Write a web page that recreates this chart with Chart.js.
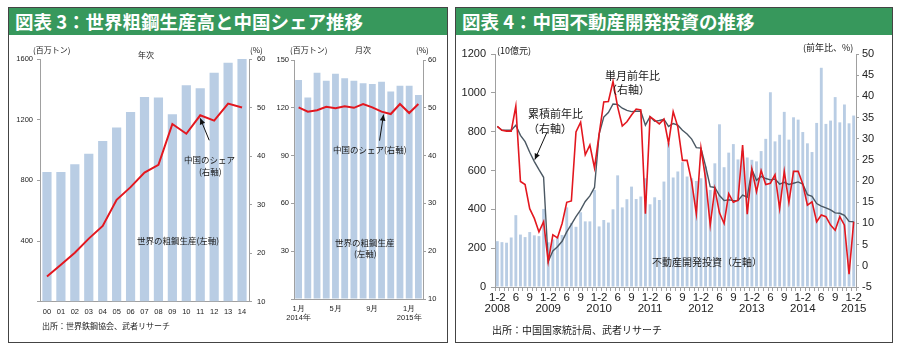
<!DOCTYPE html>
<html>
<head>
<meta charset="utf-8">
<script src="https://cdn.jsdelivr.net/npm/chart.js@4.4.1/dist/chart.umd.min.js"></script>
<style>
  body { margin: 0; width: 900px; height: 353px; background: #fff; position: relative; overflow: hidden;
         font-family: "Noto Sans CJK JP", sans-serif; }
  .panel { position: absolute; top: 7px; height: 336px; border: 1.5px solid #444; box-sizing: border-box; }
  .hdr { position: absolute; left: 0; right: 0; top: 0; height: 27px; background: #37985c; color: #fff;
         font-weight: bold; font-size: 18.5px; line-height: 27px; padding-left: 6px; white-space: nowrap; }
  .t { position: absolute; white-space: nowrap; color: #1a1a1a; line-height: 1; }
  canvas { position: absolute; }
</style>
</head>
<body>
<div class="panel" style="left:8px;width:440px"><div class="hdr">図表 3：世界粗鋼生産高と中国シェア推移</div></div>
<div class="panel" style="left:455px;width:438px"><div class="hdr">図表 4：中国不動産開発投資の推移</div></div>

<canvas id="yearChart" width="275" height="285" style="left:10px;top:40px"></canvas>
<canvas id="monthChart" width="180" height="285" style="left:268px;top:40px"></canvas>
<canvas id="investChart" width="437" height="290" style="left:455px;top:40px"></canvas>

<!-- 図表3 左 -->
<div class="t" style="left:33px;top:46px;font-size:8px">(百万トン)</div>
<div class="t" style="left:138px;top:51px;font-size:8px">年次</div>
<div class="t" style="left:250px;top:46px;font-size:8px">(%)</div>
<div class="t" style="left:184px;top:155px;font-size:8.5px">中国のシェア</div>
<div class="t" style="left:199px;top:167px;font-size:8.5px">(右軸)</div>
<div class="t" style="left:137px;top:236px;font-size:8.5px">世界の粗鋼生産(左軸)</div>
<div class="t" style="left:42px;top:322px;font-size:8px">出所：世界鉄鋼協会、武者リサーチ</div>
<!-- 図表3 右 -->
<div class="t" style="left:290px;top:46px;font-size:8px">(百万トン)</div>
<div class="t" style="left:355px;top:46px;font-size:8px">月次</div>
<div class="t" style="left:416px;top:46px;font-size:8px">(%)</div>
<div class="t" style="left:333px;top:145px;font-size:8.5px">中国のシェア(右軸)</div>
<div class="t" style="left:335px;top:238px;font-size:8.5px">世界の粗鋼生産</div>
<div class="t" style="left:354px;top:249px;font-size:8.5px">(左軸)</div>
<!-- 図表4 -->
<div class="t" style="left:497px;top:46px;font-size:9px">(10億元)</div>
<div class="t" style="left:803px;top:43px;font-size:9px">(前年比、%)</div>
<div class="t" style="left:528px;top:108px;font-size:11px">累積前年比</div>
<div class="t" style="left:528px;top:123px;font-size:11px">（右軸）</div>
<div class="t" style="left:605px;top:70px;font-size:11px">単月前年比</div>
<div class="t" style="left:606px;top:84px;font-size:11px">（右軸）</div>
<div class="t" style="left:652px;top:257px;font-size:10px">不動産開発投資（左軸）</div>
<div class="t" style="left:492px;top:325px;font-size:10px">出所：中国国家統計局、武者リサーチ</div>

<script>
// 図表3 年次
const yearsA = ['00','01','02','03','04','05','06','07','08','09','10','11','12','13','14'];
const steelA = [855, 855, 906, 976, 1060, 1148, 1251, 1350, 1346, 1235, 1427, 1407, 1510, 1576, 1602];
const shareA = [15.2, 17.6, 20.1, 23.0, 25.6, 31.0, 33.6, 36.6, 38.2, 46.6, 44.6, 48.4, 47.3, 50.8, 50.0];

// 図表3 月次 (2014/1 - 2015/2)
const monthTicksB = [['1月','2014年'], '', '', '', '5月', '', '', '', '9月', '', '', '', ['1月','2015年'], ''];
const steelB = [137.5, 126.4, 142, 137, 141.4, 138.5, 137, 135.4, 135, 136.4, 130.2, 133.9, 133.9, 128];
const shareB = [50.1, 49.2, 49.5, 50.2, 49.9, 50.3, 50.0, 50.8, 50.1, 49.2, 48.7, 50.8, 48.9, 50.8];

// 図表4 (2008/1-2 - 2015/1-2)
const yearsC = ['2008','2009','2010','2011','2012','2013','2014','2015'];
const monthCodes = ['1-2','3','4','5','6','7','8','9','10','11','12'];
const shownCodes = ['1-2','6','9'];
const investC = [
  236, 231, 228, 255, 370, 270, 257, 283, 266, 262, 402,
  230, 245, 255, 268, 410, 330, 310, 385, 338, 338, 500,
  312, 345, 332, 400, 575, 410, 452, 517, 453, 466, 560,
  426, 462, 448, 543, 741, 564, 595, 643, 569, 560, 546,
  560, 620, 500, 637, 838, 617, 692, 736, 657, 701, 667,
  655, 647, 700, 763, 1003, 750, 784, 902, 759, 874, 862,
  798, 740, 695, 845, 1129, 840, 857, 978, 848, 940, 843,
  883
];
const cumYoY = [
  32.9, 32.0, 32.0, 32.0, 33.2, 30.8, 29.3, 26.8, 24.6, 22.7, 20.9,
  1.0, 3.5, 4.5, 5.8, 8.0, 9.8, 11.6, 13.2, 15.2, 16.5, 18.5,
  31.1, 35.1, 36.2, 38.2, 38.1, 37.2, 36.7, 36.4, 36.5, 36.5, 33.2,
  35.2, 34.1, 34.3, 34.6, 32.9, 33.6, 33.2, 32.0, 31.1, 29.9, 27.9,
  27.8, 23.5, 18.7, 18.5, 16.6, 15.4, 15.6, 15.4, 15.4, 16.7, 16.2,
  22.8, 20.2, 21.1, 20.6, 20.3, 20.5, 19.3, 19.7, 19.2, 19.5, 19.8,
  19.3, 16.8, 16.4, 14.7, 14.1, 13.7, 13.2, 12.5, 12.4, 11.9, 10.5,
  10.4
];
const monthYoY = [
  32.9, 32.0, 31.8, 31.8, 37.7, 19.9, 19.2, 13.5, 11.2, 8.0, 10.4,
  1.0, 7.3, 6.6, 10.0, 15.0, 15.3, 31.6, 33.9, 26.2, 28.5, 23.1,
  31.1, 38.7, 38.8, 43.5, 37.5, 33.0, 34.0, 35.6, 37.0, 36.8, 12.3,
  35.2, 34.4, 33.5, 34.6, 28.9, 36.4, 32.8, 24.9, 24.9, 19.8, 12.3,
  27.8, 20.6, 9.6, 18.2, 12.5, 10.0, 17.0, 15.0, 15.5, 28.5, 12.2,
  22.8, 17.5, 22.5, 19.2, 19.5, 21.5, 13.5, 22.3, 15.0, 22.3, 22.3,
  19.3, 14.3, 15.1, 10.4, 12.0, 11.6, 9.6, 8.4, 11.6, 9.6, -2.0,
  10.4
];

const BAR = '#b9cde4', RED = '#e3171f', GRAY = '#4b5863', AXIS = '#a0a0a0';
Chart.defaults.font.family = '"Liberation Sans", Arial, sans-serif';
Chart.defaults.color = '#222';
Chart.defaults.animation = false;

// arrow from a label to a point on a line
const arrowPlugin = {
  id: 'arrow',
  afterDatasetsDraw(chart, args, opts) {
    (opts.list || []).forEach(a => {
      const pt = chart.getDatasetMeta(a.ds).data[a.idx];
      const hx = pt.x + a.hx, hy = pt.y + a.hy;
      const tx = hx + a.tx, ty = hy + a.ty;
      const ctx = chart.ctx;
      ctx.save();
      ctx.strokeStyle = '#111'; ctx.fillStyle = '#111'; ctx.lineWidth = 1;
      ctx.beginPath(); ctx.moveTo(tx, ty); ctx.lineTo(hx, hy); ctx.stroke();
      const ang = Math.atan2(hy - ty, hx - tx), L = 6, W = 2.8;
      ctx.beginPath();
      ctx.moveTo(hx, hy);
      ctx.lineTo(hx - L * Math.cos(ang) + W * Math.sin(ang), hy - L * Math.sin(ang) - W * Math.cos(ang));
      ctx.lineTo(hx - L * Math.cos(ang) - W * Math.sin(ang), hy - L * Math.sin(ang) + W * Math.cos(ang));
      ctx.closePath(); ctx.fill();
      ctx.restore();
    });
  }
};
Chart.register(arrowPlugin);

const fixW = w => s => { s.width = w; };
const fixH = h => s => { s.height = h; };

function smallAxes(o) {
  return {
    x: { grid: { display: false, drawTicks: false }, border: { color: AXIS },
         ticks: { autoSkip: false, maxRotation: 0, padding: o.xPad, font: { size: o.xFont, lineHeight: 1.25 } },
         afterFit: fixH(o.xH) },
    y: { position: 'left', min: 0, max: o.lmax, border: { color: AXIS },
         grid: { drawOnChartArea: false, tickLength: 3, color: AXIS },
         ticks: { stepSize: o.lstep, padding: o.lPad, font: { size: 7.5 }, callback: v => v === 0 ? '' : String(v) },
         afterFit: fixW(o.lW) },
    y1: { position: 'right', min: 10, max: 60, border: { color: AXIS },
          grid: { drawOnChartArea: false, tickLength: 3, color: AXIS },
          ticks: { stepSize: 10, padding: o.rPad, font: { size: 7.5 } },
          afterFit: fixW(o.rW) }
  };
}

new Chart(document.getElementById('yearChart'), {
  data: {
    labels: yearsA,
    datasets: [
      { type: 'line', data: shareA, yAxisID: 'y1', borderColor: RED, borderWidth: 2, pointRadius: 0, tension: 0, order: 1 },
      { type: 'bar', data: steelA, yAxisID: 'y', backgroundColor: BAR, barPercentage: 0.66, categoryPercentage: 1, order: 2 }
    ]
  },
  options: {
    responsive: false, layout: { padding: { top: 19 } },
    plugins: { legend: { display: false }, tooltip: { enabled: false },
               arrow: { list: [{ ds: 0, idx: 11, hx: 0, hy: 3, tx: 9, ty: 22 }] } },
    scales: smallAxes({ xPad: 6, xFont: 7.5, xH: 23.3, lmax: 1600, lstep: 400, lPad: 4, lW: 30, rPad: 5, rW: 36 })
  }
});

new Chart(document.getElementById('monthChart'), {
  data: {
    labels: monthTicksB,
    datasets: [
      { type: 'line', data: shareB, yAxisID: 'y1', borderColor: RED, borderWidth: 2, pointRadius: 0, tension: 0, order: 1 },
      { type: 'bar', data: steelB, yAxisID: 'y', backgroundColor: BAR, barPercentage: 0.74, categoryPercentage: 1, order: 2 }
    ]
  },
  options: {
    responsive: false, layout: { padding: { top: 20 } },
    plugins: { legend: { display: false }, tooltip: { enabled: false },
               arrow: { list: [{ ds: 0, idx: 9, hx: 2, hy: 3, tx: -4, ty: 26 }] } },
    scales: smallAxes({ xPad: 5, xFont: 7.5, xH: 26, lmax: 150, lstep: 30, lPad: 2, lW: 26, rPad: 2, rW: 25 })
  }
});

// 図表4 categories
const catsC = [];
yearsC.forEach((yr, k) => {
  const codes = k === yearsC.length - 1 ? ['1-2'] : monthCodes;
  codes.forEach(c => catsC.push(c === '1-2' ? [c, yr] : (shownCodes.includes(c) ? c : '')));
});

new Chart(document.getElementById('investChart'), {
  data: {
    labels: catsC,
    datasets: [
      { type: 'line', data: monthYoY, yAxisID: 'y1', borderColor: RED, borderWidth: 1.6, pointRadius: 0, tension: 0, order: 1 },
      { type: 'line', data: cumYoY, yAxisID: 'y1', borderColor: GRAY, borderWidth: 1.4, pointRadius: 0, tension: 0, order: 2 },
      { type: 'bar', data: investC, yAxisID: 'y', backgroundColor: BAR, barPercentage: 0.62, categoryPercentage: 1, order: 3 }
    ]
  },
  options: {
    responsive: false, layout: { padding: { top: 14 } },
    plugins: { legend: { display: false }, tooltip: { enabled: false },
               arrow: { list: [{ ds: 1, idx: 8, hx: 0.5, hy: -2, tx: 12, ty: -27 }] } },
    scales: {
      x: { border: { color: AXIS }, grid: { drawOnChartArea: false, tickLength: 4, color: AXIS },
           ticks: { autoSkip: false, maxRotation: 0, padding: 1, font: { size: 11.5, lineHeight: 0.95 } },
           afterFit: fixH(43) },
      y: { position: 'left', min: 0, max: 1200, border: { color: AXIS },
           grid: { drawOnChartArea: false, tickLength: 4, color: AXIS },
           ticks: { stepSize: 200, padding: 5, font: { size: 11 }, callback: v => String(v) }, afterFit: fixW(40) },
      y1: { position: 'right', min: -5, max: 50, border: { color: AXIS },
            grid: { drawOnChartArea: false, tickLength: 3, color: AXIS },
            ticks: { stepSize: 5, padding: 3, font: { size: 11 } }, afterFit: fixW(36) }
    }
  }
});
</script>
</body>
</html>
